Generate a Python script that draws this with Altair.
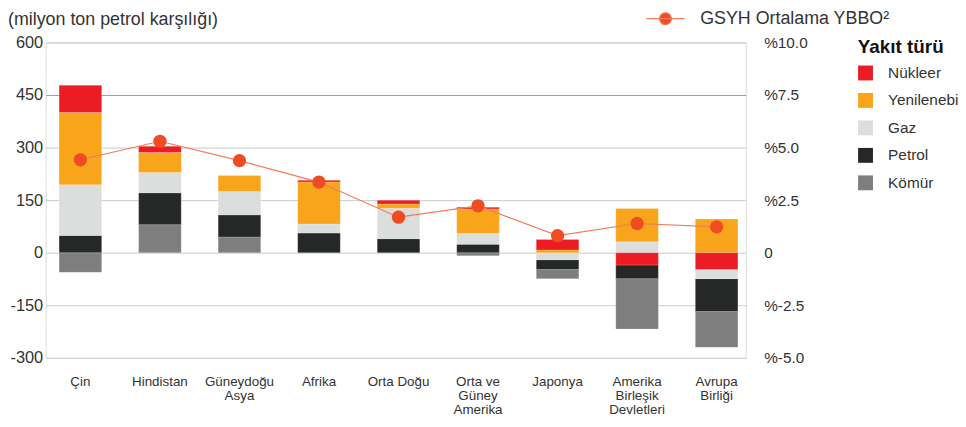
import altair as alt
import pandas as pd

# ---- data ----
regions = ["Çin", "Hindistan", "Güneydoğu\nAsya", "Afrika", "Orta Doğu",
           "Orta ve\nGüney\nAmerika", "Japonya", "Amerika\nBirleşik\nDevletleri",
           "Avrupa\nBirliği"]
fuels = ["Nükleer", "Yenilenebilir", "Gaz", "Petrol", "Kömür"]
fuel_colors = ["#ec1c24", "#f9a51b", "#dcdddd", "#262827", "#7e7e7e"]

komur = [-56, 80, 45, 0, 0, -9, -26, -144, -102]
petrol = [49, 91, 63, 56, 40, 24, -28, -39, -94]
gaz = [145, 58, 67, 26, 87, 31, -20, 31, -26]
yenilenebilir = [206, 57, 45, 120, 12, 70, 8, 95, 96]
nukleer = [78, 18, 0, 5, 11, 5, 30, -35, -48]
gsyh = [4.42, 5.30, 4.38, 3.36, 1.69, 2.23, 0.81, 1.39, 1.23]

left_ticks = [600, 450, 300, 150, 0, -150, -300]
right_ticks = [10, 7.5, 5, 2.5, 0, -2.5, -5]
series_name = "GSYH Ortalama YBBO²"
title_text = "(milyon ton petrol karşılığı)"

# ---- tables ----
series = {"Kömür": komur, "Petrol": petrol, "Gaz": gaz,
          "Yenilenebilir": yenilenebilir, "Nükleer": nukleer}
pos_rank = {"Kömür": 0, "Petrol": 1, "Gaz": 2, "Yenilenebilir": 3, "Nükleer": 4}
neg_rank = {"Nükleer": 0, "Yenilenebilir": 1, "Gaz": 2, "Petrol": 3, "Kömür": 4}
rows = []
for fuel, vals in series.items():
    for r, v in zip(regions, vals):
        if v != 0:
            rows.append({"region": r, "fuel": fuel, "value": v,
                         "rank": pos_rank[fuel] if v > 0 else neg_rank[fuel]})
bars_df = pd.DataFrame(rows)
line_df = pd.DataFrame({"region": regions, "gdp": gsyh, "series": series_name})

FONT = "Liberation Sans"
TXT = "#333333"

x_enc = alt.X("region:N", sort=regions,
              scale=alt.Scale(paddingInner=0.4645, paddingOuter=0.134, align=0.63),
              axis=alt.Axis(title=None, labelAngle=0, domain=False, ticks=False,
                            labelExpr="split(datum.label, '\\n')",
                            labelFontSize=13.5, labelLineHeight=14,
                            labelBaseline="top", labelPadding=17,
                            labelColor=TXT, labelFont=FONT))

bars = alt.Chart(bars_df).mark_bar(stroke="white", strokeWidth=0.4, strokeOpacity=0.5).encode(
    x=x_enc,
    y=alt.Y("value:Q", stack="zero",
            scale=alt.Scale(domain=[-300, 600], nice=False, zero=False),
            axis=alt.Axis(title=None, values=left_ticks, domain=False, ticks=False,
                          grid=True,
                          gridColor=alt.condition("datum.value == 450",
                                                  alt.value("#9e9e9e"),
                                                  alt.value("#cbcbcb")),
                          labelExpr="replace(datum.label, '\u2212', '-')",
                          labelFontSize=16.5, labelPadding=3, labelColor=TXT,
                          labelFont=FONT)),
    color=alt.Color("fuel:N", sort=fuels,
                    scale=alt.Scale(domain=fuels, range=fuel_colors),
                    legend=alt.Legend(title="Yakıt türü", orient="none",
                                      legendX=819, legendY=-4,
                                      titleFontSize=19, titleFont=FONT,
                                      titleFontWeight="bold", titleColor="#111111",
                                      titlePadding=8,
                                      labelFontSize=15.5, labelFont=FONT,
                                      labelFontWeight="normal",
                                      labelColor=TXT, labelOffset=15,
                                      labelLimit=400,
                                      symbolType="square", symbolSize=225,
                                      symbolStrokeWidth=0, rowPadding=10.7,
                                      padding=0)),
    order=alt.Order("rank:Q", sort="ascending"),
)

y_right = alt.Y("gdp:Q",
                scale=alt.Scale(domain=[-5, 10], nice=False, zero=False),
                axis=alt.Axis(title=None, orient="right", values=right_ticks,
                              domain=False, ticks=False, grid=False,
                              labelExpr="datum.value == 0 ? '0' : '%' + replace(format(datum.value, '.1f'), '\u2212', '-')",
                              labelFontSize=15.5, labelPadding=18, labelColor=TXT,
                              labelFont=FONT))

line = alt.Chart(line_df).mark_line(color="#f37b5b", strokeWidth=1.2).encode(
    x=alt.X("region:N", sort=regions), y=y_right)

points = alt.Chart(line_df).mark_circle(size=180, opacity=1).encode(
    x=alt.X("region:N", sort=regions),
    y=y_right,
    fill=alt.Fill("series:N", scale=alt.Scale(range=["#ef4c23"]),
                  legend=alt.Legend(title=None, orient="none",
                                    legendX=616, legendY=-33,
                                    symbolType="M-3.2,0L3.2,0M1,0A1,1,0,1,1,-1,0A1,1,0,1,1,1,0Z",
                                    symbolSize=144, labelOffset=26,
                                    labelFontSize=18, labelFont=FONT,
                                    labelFontWeight="normal", labelLimit=400,
                                    labelColor=TXT, padding=0,
                                    symbolStrokeColor="#f37b5b",
                                    symbolStrokeWidth=1.2)),
)

right = alt.layer(line, points)

title = alt.Chart(pd.DataFrame({"t": [title_text]})).mark_text(
    align="left", baseline="top", fontSize=18, font=FONT, color=TXT
).encode(text="t:N", x=alt.value(-38), y=alt.value(-32))

chart = alt.layer(bars, title, right).resolve_scale(y="independent").properties(
    width=706, height=318,
    autosize=alt.AutoSizeParams(type="none"),
    padding={"left": 38, "top": 33, "right": 214, "bottom": 68},
).configure_view(stroke=None).configure(font=FONT)

chart.save("out.html", embed_options={"renderer": "svg", "actions": False})
